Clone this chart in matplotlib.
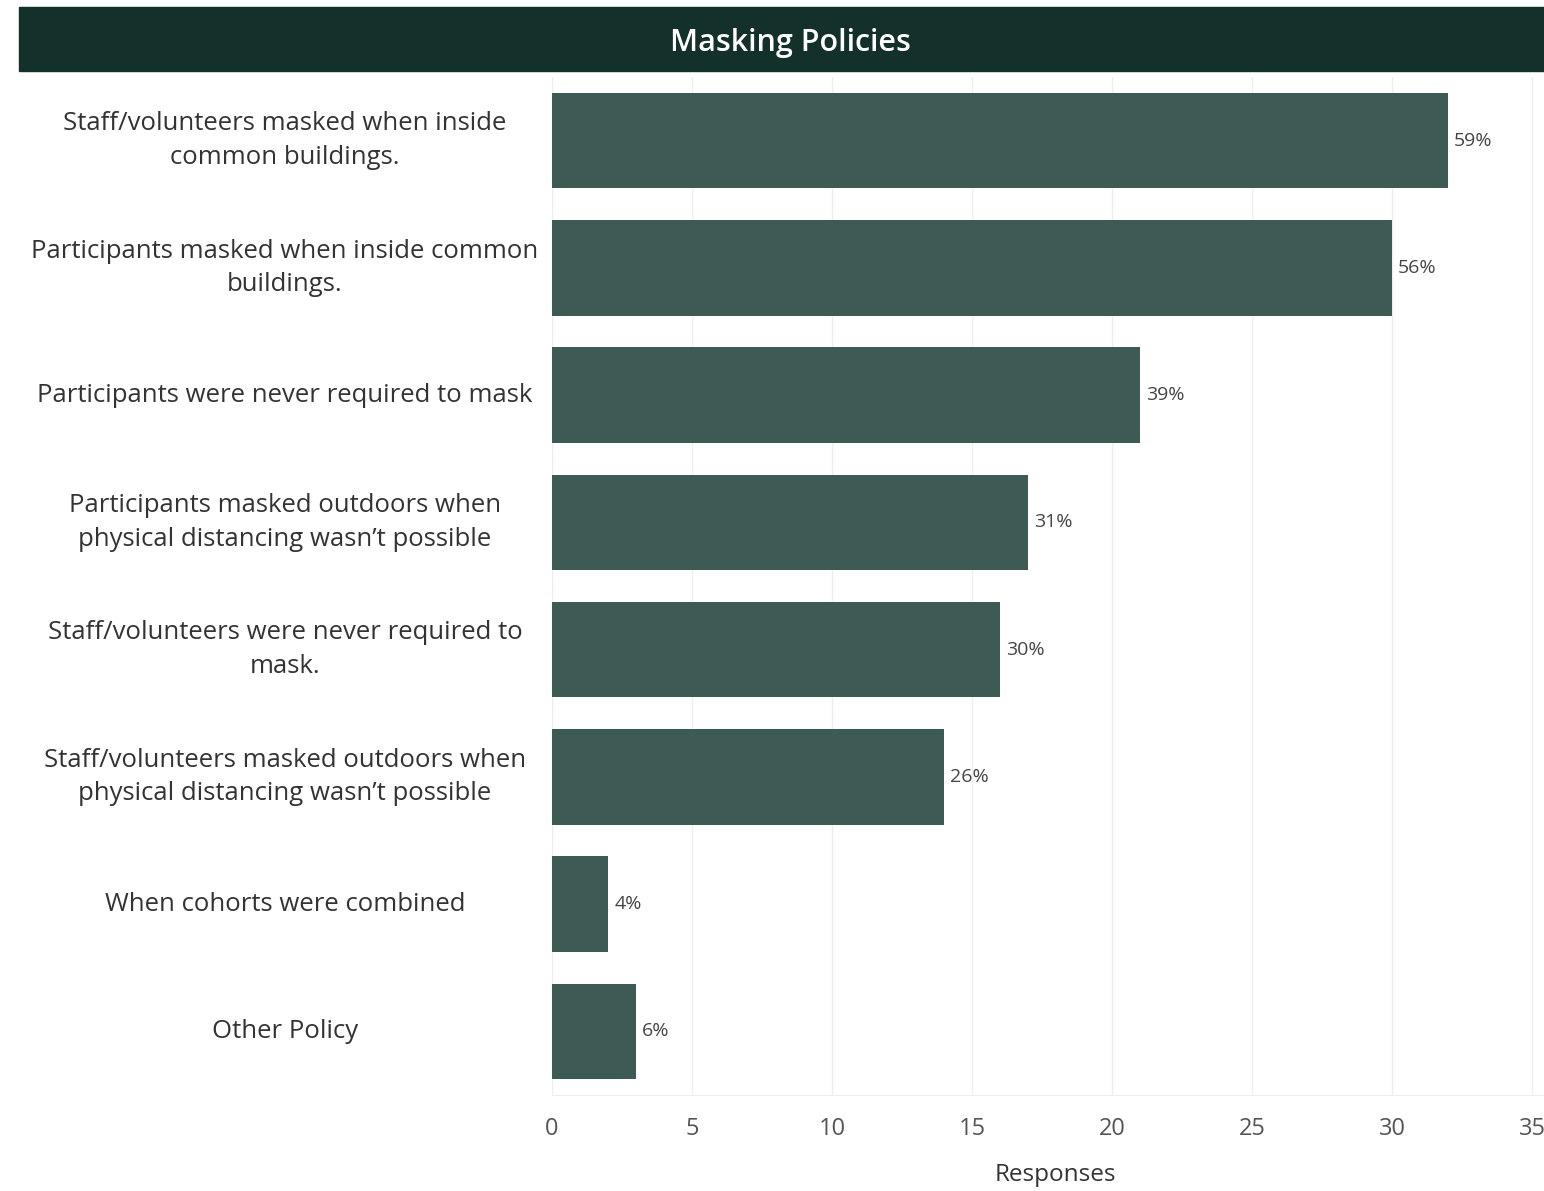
import matplotlib.pyplot as plt
import matplotlib.transforms as mtransforms
from matplotlib.patches import Rectangle

categories = [
    "Staff/volunteers masked when inside\ncommon buildings.",
    "Participants masked when inside common\nbuildings.",
    "Participants were never required to mask",
    "Participants masked outdoors when\nphysical distancing wasn\u2019t possible",
    "Staff/volunteers were never required to\nmask.",
    "Staff/volunteers masked outdoors when\nphysical distancing wasn\u2019t possible",
    "When cohorts were combined",
    "Other Policy",
]
responses = [32, 30, 21, 17, 16, 14, 2, 3]
percents = ["59%", "56%", "39%", "31%", "30%", "26%", "4%", "6%"]
xticks = [0, 5, 10, 15, 20, 25, 30, 35]

plt.rcParams['font.family'] = ['Open Sans', 'DejaVu Sans']

W, H = 1544, 1191
fig = plt.figure(figsize=(W / 100, H / 100), dpi=100)
fig.patch.set_facecolor('white')

# header band
fig.patches.append(Rectangle((19 / W, 1 - 71 / H), 1 - 19 / W, 64 / H,
                             transform=fig.transFigure, color='#14302a', zorder=0))
fig.text(790 / W, 1 - 43 / H, "Masking Policies", color='white', fontsize=22,
         fontweight='semibold', ha='center', va='center')

ax = fig.add_axes([552 / W, 1 - 1095 / H, (W - 552) / W, (1095 - 77) / H])
ypos = list(range(len(categories)))
ax.barh(ypos, responses, height=0.75, color='#3e5a54', zorder=2)
ax.set_ylim(len(categories) - 0.5, -0.5)
ax.set_xlim(0, (W - 552) / 28)

for y, v, p in zip(ypos, responses, percents):
    ax.text(v + 0.22, y, p, va='center', ha='left', fontsize=14, color='#444444')

trans = mtransforms.blended_transform_factory(fig.transFigure, ax.transData)
for y, c in zip(ypos, categories):
    ax.text(285 / W, y, c, transform=trans, ha='center', va='center',
            fontsize=18.5, color='#333333', linespacing=1.45)

ax.set_yticks([])
ax.set_xticks(xticks)
ax.set_xticklabels([str(t) for t in xticks], fontsize=17, color='#555555')
ax.tick_params(axis='x', length=0, pad=16)
ax.grid(axis='x', color='#eeeeee', linewidth=1, zorder=0)
for s in ['top', 'right', 'left']:
    ax.spines[s].set_visible(False)
ax.spines['bottom'].set_color('#eeeeee')
ax.set_xlabel("Responses", fontsize=17.5, color='#333333')
ax.xaxis.set_label_coords((1055 - 552) / (W - 552), -0.067)

fig.savefig("out.png", dpi=100)
